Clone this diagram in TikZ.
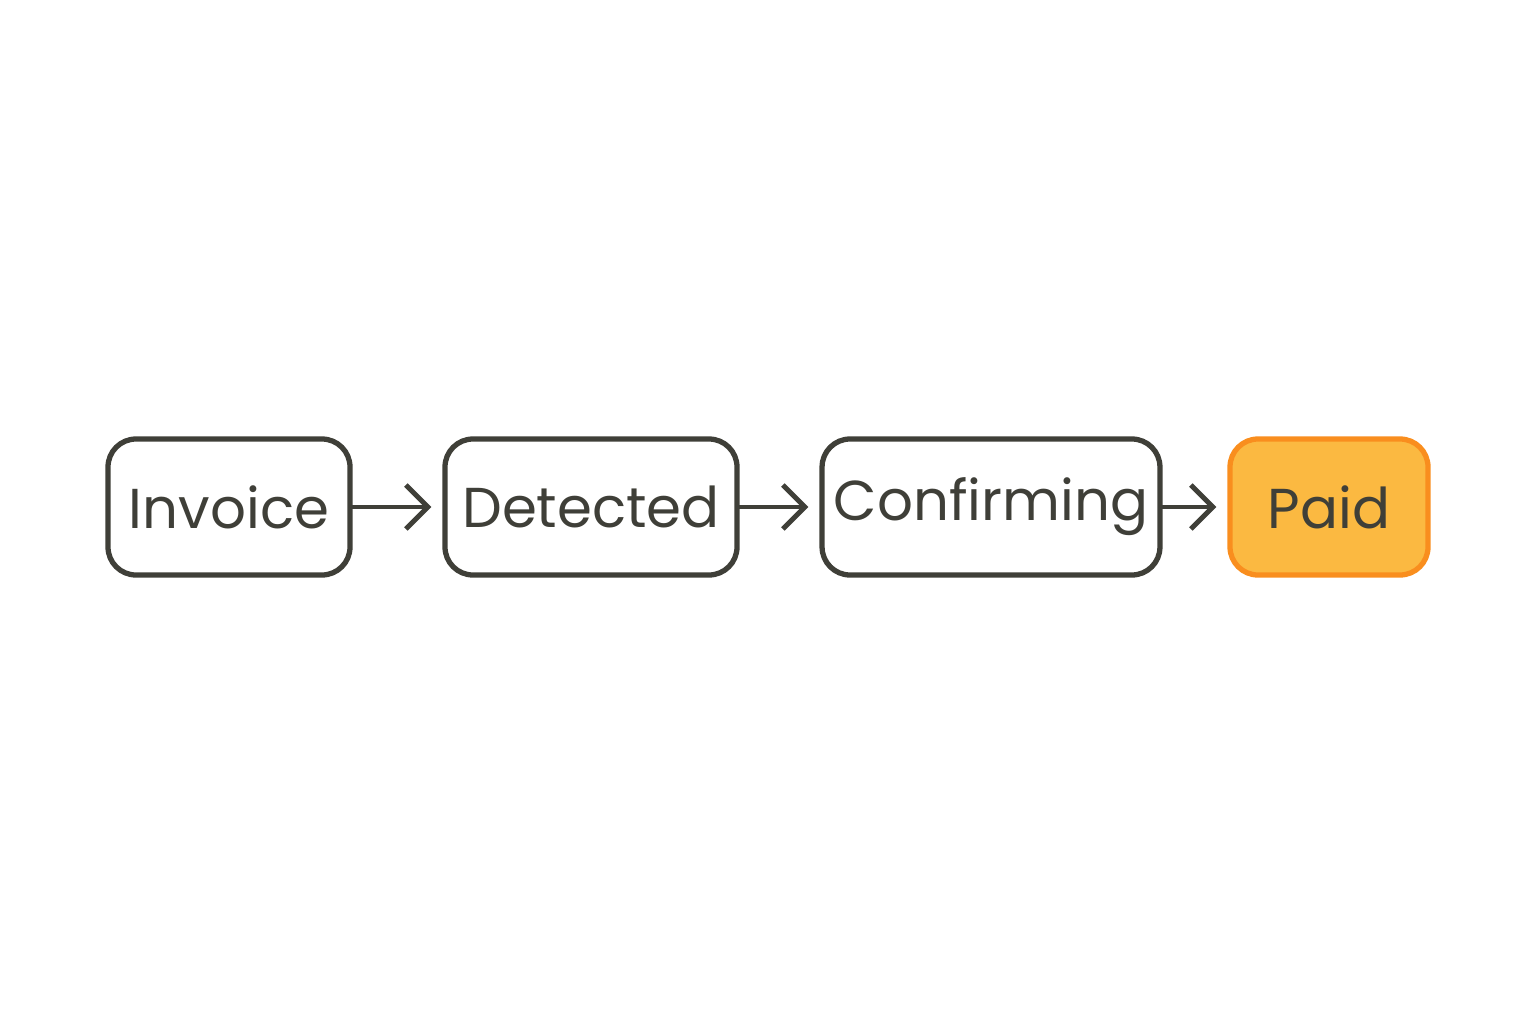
\documentclass[tikz,border=0pt]{standalone}
\usepackage{fontspec}
\setmainfont{Poppins}
\usetikzlibrary{arrows.meta}
\definecolor{ink}{HTML}{3F3F38}
\definecolor{paidfill}{HTML}{FBB941}
\definecolor{paidline}{HTML}{F98E1E}
\begin{document}
\begin{tikzpicture}[
    state/.style={draw=ink, line width=1.5pt, rounded corners=0.28cm,
                  minimum height=1.36cm, font=\fontsize{16}{19}\selectfont,
                  text=ink, align=center},
    trans/.style={-{Straight Barb[length=2.2mm,width=4.4mm,line width=1.4pt]},
                  line width=1.4pt, draw=ink, line cap=round, shorten >=1.1mm},
  ]
    \useasboundingbox (0,0) rectangle (15.36,10.24);
    % states
    \node[state, minimum width=2.42cm] (inv) at (2.29,5.17) {Invoice};
    \node[state, minimum width=2.92cm] (det) at (5.91,5.17) {Detected};
    \node[state, minimum width=3.30cm] (con) at (9.91,5.17) {Confirming};
    \node[state, minimum width=1.98cm, fill=paidfill, draw=paidline] (paid) at (13.29,5.17) {Paid};

    \draw[trans] (inv) -- (det);
    \draw[trans] (det) -- (con);
    \draw[trans] (con) -- (paid);
\end{tikzpicture}
\end{document}
